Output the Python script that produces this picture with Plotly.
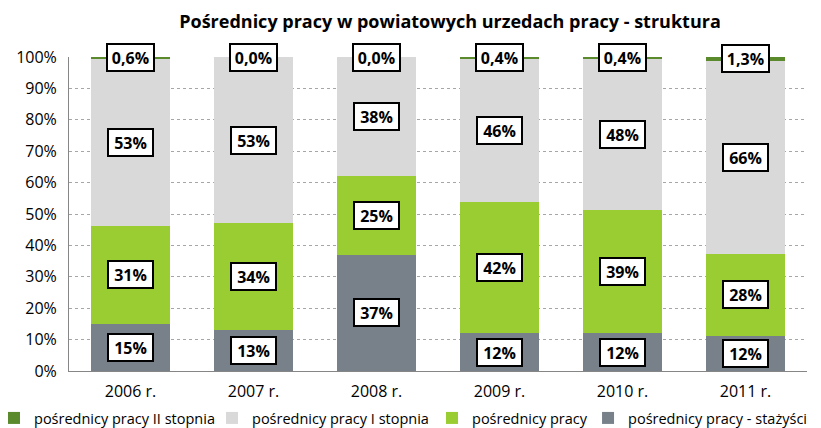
import plotly.graph_objects as go

categories = ["2006 r.", "2007 r.", "2008 r.", "2009 r.", "2010 r.", "2011 r."]
stazysci = [15, 13, 37, 12, 12, 12]
posrednicy = [31, 34, 25, 42, 39, 28]
stopien_1 = [53, 53, 38, 46, 48, 66]
stopien_2 = [0.6, 0.0, 0.0, 0.4, 0.4, 1.3]
tick_values = [0, 10, 20, 30, 40, 50, 60, 70, 80, 90, 100]
tick_labels = [f"{v}%" for v in tick_values]

# (name, values, colour, one-decimal label, legend id, legend x)
series = [
    ("pośrednicy pracy - stażyści", stazysci, "#78808A", False, "legend4", 0.7033),
    ("pośrednicy pracy", posrednicy, "#9ACD32", False, "legend3", 0.4919),
    ("pośrednicy pracy I stopnia", stopien_1, "#D9D9D9", False, "legend2", 0.1938),
    ("pośrednicy pracy II stopnia", stopien_2, "#5A8A2C", True, "legend", -0.1016),
]

FONT = "Open Sans"
fig = go.Figure()
legend_layouts = {}
for name, vals, color, _, lg, lx in series:
    fig.add_trace(go.Bar(x=categories, y=vals, name=name, marker_color=color,
                         marker_line_width=0, legend=lg))
    legend_layouts[lg] = dict(orientation="h", x=lx, xanchor="left", y=-0.1497,
                              yanchor="middle", bgcolor="rgba(0,0,0,0)",
                              font=dict(family=FONT, size=14.5, color="black"),
                              itemwidth=30)

annotations = []
for i, cat in enumerate(categories):
    total = sum(s[1][i] for s in series)
    cum = 0.0
    for name, vals, color, decimal, _, _ in series:
        v = vals[i]
        mid = (cum + v / 2) / total * 100
        cum += v
        txt = (f"{v:.1f}".replace(".", ",") + "%") if decimal else f"{v:.0f}%"
        annotations.append(dict(x=cat, y=mid, xref="x", yref="y", text=f"<b>{txt}</b>",
                                showarrow=False, bgcolor="white", bordercolor="black",
                                borderwidth=2, borderpad=2,
                                width=41 if decimal else 39, height=21,
                                font=dict(family=FONT, size=16, color="black")))

# the page adds an 8 px body margin, so the figure is 8 px smaller than the window
fig.update_layout(
    width=813, height=420,
    barmode="stack", barnorm="percent", bargap=0.35,
    plot_bgcolor="white", paper_bgcolor="white",
    margin=dict(l=61, r=14, t=49, b=57, autoexpand=False),
    title=dict(text="<b>Pośrednicy pracy w powiatowych urzedach pracy - struktura</b>",
               x=442 / 813, xanchor="center", xref="container",
               y=1 - 14 / 420, yanchor="middle",
               font=dict(family=FONT, size=18, color="black")),
    annotations=annotations,
    showlegend=True,
    **legend_layouts,
)
fig.update_yaxes(range=[0, 100], tickvals=tick_values, ticktext=tick_labels,
                 showgrid=True, gridcolor="#A6A6A6", griddash="dot", gridwidth=1,
                 showline=True, linecolor="#868686", linewidth=1, zeroline=False,
                 ticklabelstandoff=8,
                 tickfont=dict(family=FONT, size=16, color="black"), ticks="")
fig.update_xaxes(showline=True, linecolor="#868686", linewidth=1,
                 ticklabelstandoff=6,
                 tickfont=dict(family=FONT, size=16, color="black"), ticks="")

fig.write_html("out.html")
